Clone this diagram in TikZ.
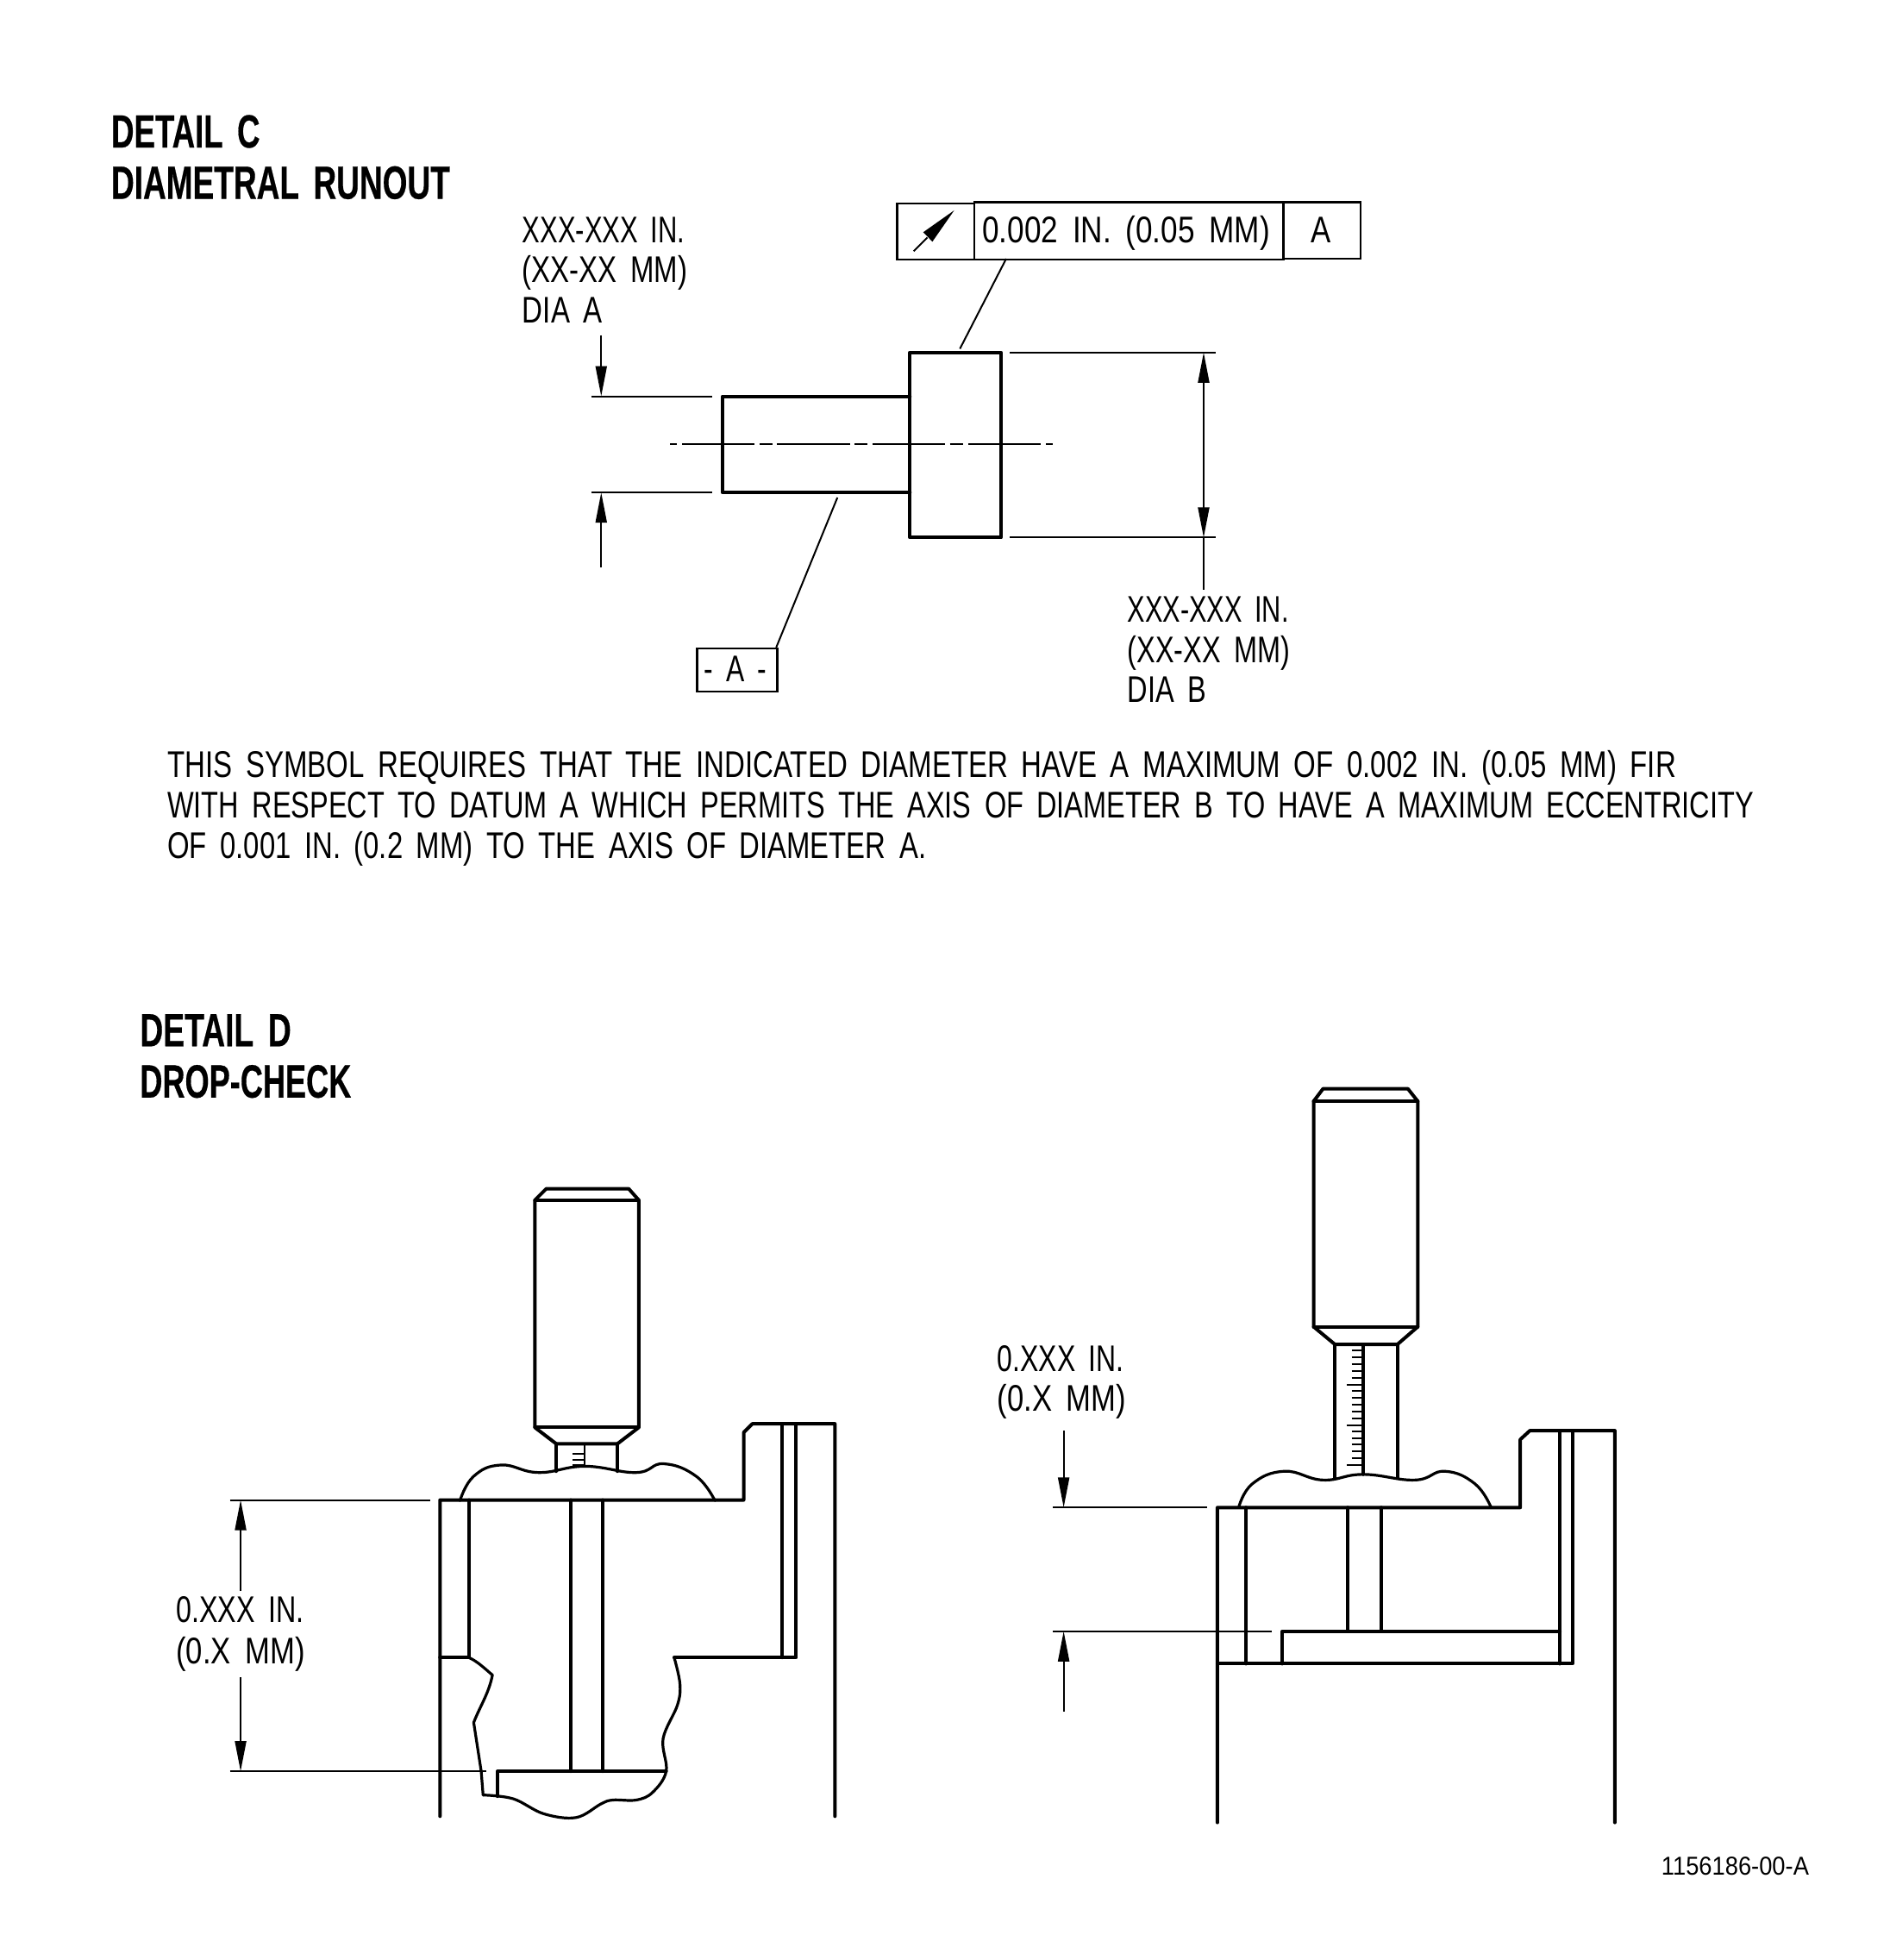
\documentclass[tikz,border=0pt]{standalone}
\usepackage{fontspec}
\usepackage{graphicx}
\usetikzlibrary{arrows.meta}
\newfontfamily\labf[WordSpace=1.7]{Liberation Sans}
\newfontfamily\headf[WordSpace=1.6,FakeBold=0.5]{Liberation Sans Bold}
\newdimen\uu \uu=0.72483pt
\newcommand\fw[2]{\resizebox{#1\uu}{\height}{#2}}
\tikzset{
  x=0.72483pt,y=-0.72483pt,
  obj/.style={line width=2pt,line cap=round,line join=round},
  curve/.style={line width=1.6pt,line cap=round,line join=round},
  fine/.style={line width=1pt},
  tick/.style={line width=1pt},
  dimtip/.style={-{Stealth[inset=0pt,length=17.5pt,width=6.5pt]}},
  tipboth/.style={{Stealth[inset=0pt,length=17.5pt,width=6.5pt]}-{Stealth[inset=0pt,length=17.5pt,width=6.5pt]}},
  lab/.style={anchor=base west,inner sep=0pt,outer sep=0pt,font=\labf\fontsize{21.5}{26}\selectfont},
  head/.style={anchor=base west,inner sep=0pt,outer sep=0pt,font=\headf\fontsize{27}{32}\selectfont},
  fbox/.style={draw,line width=1.1pt,inner sep=0pt,anchor=north west},
}
\begin{document}
\begin{tikzpicture}
\useasboundingbox (0,0) rectangle (1512.1,1568);
% headings
\node[head] (h1) at (89,118) {\fw{119}{DETAIL C}};
\node[head] (h2) at (89,159) {\fw{271}{DIAMETRAL RUNOUT}};
\node[head] (h3) at (112,837) {\fw{121}{DETAIL D}};
\node[head] (h4) at (112,878) {\fw{169}{DROP-CHECK}};
% frame
\node[fbox,minimum width=62\uu,minimum height=45\uu] (f1) at (717,162) {};
\node[fbox,minimum width=247\uu,minimum height=46\uu] (f2) at (779,161) {};
\node[fbox,minimum width=62\uu,minimum height=45\uu] (f3) at (1026,161) {};
\node[lab] (t1) at (786,194) {\fw{230}{0.002 IN. (0.05 MM)}};
\node[lab] (t2) at (1049,194) {\fw{16}{A}};
\coordinate (sa) at (731,201); \coordinate (sc) at (742,190); \coordinate (sb) at (763.4,168.3);
\coordinate (sl) at (738.6,185.8); \coordinate (sr) at (746,193.3);
\draw[fine] (sa) -- (sc);
\fill (sl) -- (sb) -- (sr) -- cycle;
\coordinate (l1a) at (805,207); \coordinate (l1b) at (768,279);
\draw[fine] (l1a) -- (l1b);
% part
\draw[obj] (728,282) rectangle (801,430);
\draw[obj] (728,317) -- (578,317) -- (578,394) -- (728,394);
% centre line
\draw[fine] (536,355.4) -- (541.5,355.4) (545.7,355.4) -- (603.6,355.4) (607.7,355.4) -- (618.2,355.4) (621.5,355.4) -- (680.1,355.4) (683.7,355.4) -- (694,355.4) (698.1,355.4) -- (756,355.4) (760,355.4) -- (770.5,355.4) (774.6,355.4) -- (832.6,355.4) (836.8,355.4) -- (842.4,355.4);
% extension and dims
\draw[fine] (473,317) -- (570,317) (473,394) -- (570,394) (808,282) -- (973,282) (808,430) -- (973,430);
\coordinate (d1) at (481,268); \coordinate (d2) at (481,317);
\coordinate (d3) at (481,454); \coordinate (d4) at (481,394);
\draw[fine,dimtip] (d1) -- (d2);
\draw[fine,dimtip] (d3) -- (d4);
\coordinate (d5) at (963,282); \coordinate (d6) at (963,430); \coordinate (d7) at (963,472);
\draw[fine,tipboth] (d5) -- (d6);
\draw[fine] (d6) -- (d7);
\node[lab] at (418,194) {\fw{130}{XXX-XXX IN.}};
\node[lab] at (418,226) {\fw{132}{(XX-XX MM)}};
\node[lab] at (418,258) {\fw{64}{DIA A}};
\node[lab] at (902,498) {\fw{129}{XXX-XXX IN.}};
\node[lab] at (902,530) {\fw{130}{(XX-XX MM)}};
\node[lab] at (902,562) {\fw{63}{DIA B}};
% datum A
\node[fbox,minimum width=64.1\uu,minimum height=34.5\uu] (fa) at (557,518) {};
\node[lab] at (563.5,545) {\fw{50}{- A -}};
\coordinate (l2a) at (670,398); \coordinate (l2b) at (621,518);
\draw[fine] (l2a) -- (l2b);
% paragraph
\node[lab] at (134,622) {\fw{1207}{THIS SYMBOL REQUIRES THAT THE INDICATED DIAMETER HAVE A MAXIMUM OF 0.002 IN. (0.05 MM) FIR}};
\node[lab] at (134,654) {\fw{1269}{WITH RESPECT TO DATUM A WHICH PERMITS THE AXIS OF DIAMETER B TO HAVE A MAXIMUM ECCENTRICITY}};
\node[lab] at (134,687) {\fw{607}{OF 0.001 IN. (0.2 MM) TO THE AXIS OF DIAMETER A.}};
% LEFT ASSEMBLY
\draw[obj] (428,960) -- (437,951) -- (503,951) -- (511,960) -- (511,1142) -- (494,1155) -- (445,1155) -- (428,1142) -- cycle;
\draw[obj] (428,960) -- (511,960) (428,1142) -- (511,1142);
\draw[obj] (445,1155) -- (445,1177) (494,1155) -- (494,1177);
\draw[fine] (468,1155) -- (468,1173);
\draw[tick] (458,1163) -- (468,1163) (458,1168) -- (468,1168) (458,1172) -- (468,1172);
\draw[curve] plot[smooth,tension=0.75] coordinates {(368,1200.5) (379,1181) (401,1172) (431,1178) (468,1173) (509,1178) (531,1171) (557,1181) (572,1200.5)};
\draw[obj] (352,1453) -- (352,1200) -- (595,1200) -- (595,1146) -- (602,1139) -- (668,1139) -- (668,1453);
\draw[obj] (626,1139) -- (626,1326) (637,1139) -- (637,1326) -- (539.4,1326);
\draw[obj] (375,1200) -- (375,1326) -- (352,1326);
\draw[obj] (457,1200) -- (457,1417) (482,1200) -- (482,1417);
\draw[obj] (398,1437) -- (398,1417) -- (533,1417);
\draw[curve] plot[smooth,tension=0.6] coordinates {(539.4,1326) (544,1347) (542,1364) (530.5,1391) (533,1417) (522,1434) (509,1440) (490.4,1440) (481,1443) (461,1454) (435,1451) (410.6,1439) (386.5,1436)};
\draw[curve] (386.5,1436) -- (385,1417) -- (379,1378) .. controls (384,1365) and (391,1355) .. (394,1340) .. controls (388,1335) and (382,1329) .. (375,1326);
\draw[fine] (184,1200) -- (344,1200) (184,1417) -- (389,1417);
\coordinate (e1) at (192.5,1273); \coordinate (e2) at (192.5,1200);
\coordinate (e3) at (192.5,1342); \coordinate (e4) at (192.5,1417);
\draw[fine,dimtip] (e1) -- (e2);
\draw[fine,dimtip] (e3) -- (e4);
\node[lab] at (141,1298) {\fw{102}{0.XXX IN.}};
\node[lab] at (141,1331) {\fw{103}{(0.X MM)}};
% RIGHT ASSEMBLY
\draw[obj] (1051,881) -- (1058.5,871) -- (1126.4,871) -- (1134.3,881) -- (1134.3,1061.4) -- (1118,1075.5) -- (1068,1075.5) -- (1051,1061.4) -- cycle;
\draw[obj] (1051,881) -- (1134.3,881) (1051,1061.4) -- (1134.3,1061.4);
\draw[obj] (1068,1075.5) -- (1068,1182.5) (1118,1075.5) -- (1118,1182.5);
\draw[obj] (1090.6,1075.5) -- (1090.6,1179.5);
\foreach \yy/\xx in {1080/1081.4,1085.6/1081.4,1091.1/1081.4,1096.6/1081.4,1102.1/1081.4,1107.6/1077.4,1112.6/1081.4,1118.2/1081.4,1123.5/1081.4,1129.2/1081.4,1134.5/1081.4,1140.3/1077.4,1144.8/1081.4,1150.4/1081.4,1155.8/1081.4,1161.3/1081.4,1166.8/1081.4,1171.9/1077.4}
  \draw[tick] (\xx,\yy) -- (1090.6,\yy);
\draw[curve] plot[smooth,tension=0.75] coordinates {(991,1206) (1002,1187) (1027.7,1177) (1058.5,1184) (1090.6,1179.5) (1132,1184) (1156,1177) (1180,1187) (1193,1206)};
\draw[obj] (974,1458) -- (974,1206) -- (1216.3,1206) -- (1216.3,1151.6) -- (1224,1144.5) -- (1292,1144.5) -- (1292,1458);
\draw[obj] (1248,1144.5) -- (1248,1331) (1258,1144.5) -- (1258,1331) -- (974,1331);
\draw[obj] (997,1206) -- (997,1331);
\draw[obj] (1026,1331) -- (1026,1305) -- (1248,1305);
\draw[obj] (1078.4,1206) -- (1078.4,1305) (1105,1206) -- (1105,1305);
\draw[fine] (842.5,1206) -- (966,1206) (842.5,1305) -- (1017.4,1305);
\coordinate (g1) at (851,1144.5); \coordinate (g2) at (851,1206);
\coordinate (g3) at (851,1369); \coordinate (g4) at (851,1305);
\draw[fine,dimtip] (g1) -- (g2);
\draw[fine,dimtip] (g3) -- (g4);
\node[lab] at (798,1097) {\fw{101}{0.XXX IN.}};
\node[lab] at (798,1129) {\fw{103}{(0.X MM)}};
\node[anchor=base west,inner sep=0pt,font=\labf\fontsize{15}{18}\selectfont] at (1329,1500) {\fw{118}{1156186-00-A}};
\end{tikzpicture}
\end{document}
